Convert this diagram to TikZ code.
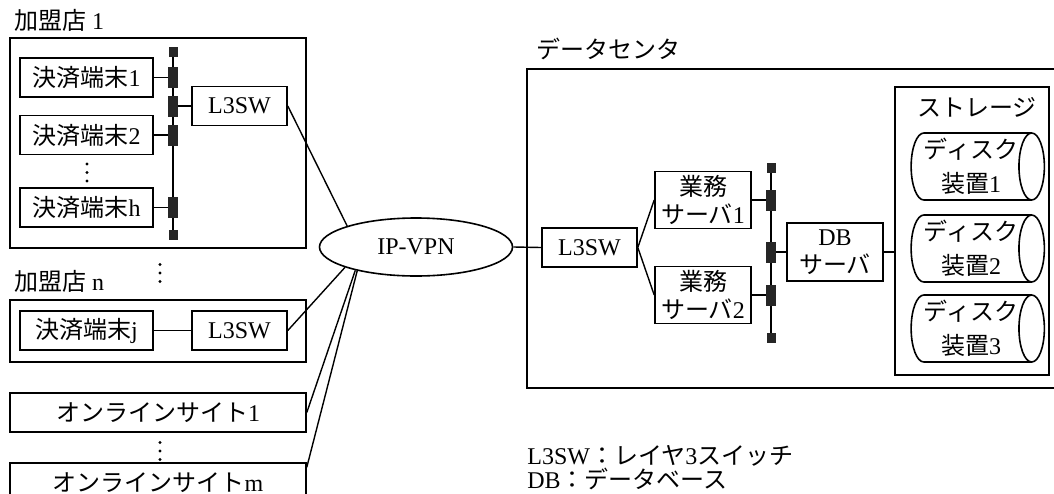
\documentclass[tikz,border=0pt]{standalone}
\usepackage{fontspec}
\setmainfont{Liberation Serif}
\newfontfamily\jp{Noto Sans CJK JP}
\usetikzlibrary{shapes.geometric, positioning}

\begin{document}
\begin{tikzpicture}[
  x=0.5pt, y=-0.5pt, font=\fontsize{12}{14}\selectfont,
  box/.style={rectangle, draw, line width=0.8pt, inner sep=0pt, align=center,
              minimum width=47.5pt, minimum height=19.5pt},
  term/.style={box, minimum width=66.5pt},
  srv/.style={box, minimum width=48pt, minimum height=28.5pt},
  frame/.style={rectangle, draw, line width=0.8pt, inner sep=0pt},
  disk/.style={cylinder, draw, line width=0.8pt, align=center, inner sep=0pt,
               aspect=0.45, minimum height=60pt, minimum width=33.5pt,
               font=\fontsize{12}{17}\selectfont},
  tap/.style={rectangle, fill=black!85, inner sep=0pt,
              minimum width=5pt, minimum height=10.5pt},
  busend/.style={rectangle, fill=black!85, inner sep=0pt,
                 minimum width=4.5pt, minimum height=5pt},
  ln/.style={line width=0.7pt}]
\useasboundingbox (0,0) rectangle (1054,493);
\clip (0,0) rectangle (1054,493);

% --- member store 1
\node[frame, minimum width=148pt, minimum height=105pt] (shop1) at (158,143) {};
\node[anchor=west] (shop1lbl) at (7,20) {{\jp 加盟店} 1};
\node[term] (pos1) at (86.5,77.5) {{\jp 決済端末}1};
\node[term] (pos2) at (86.5,135) {{\jp 決済端末}2};
\node[term] (posh) at (86.5,207.5) {{\jp 決済端末}h};
\node[box] (sw1) at (239.5,106) {L3SW};
\node[busend] (bus1top) at (173,52) {};
\node[busend] (bus1bot) at (173,235) {};
\draw[line width=1pt] (bus1top) -- (bus1bot);
\foreach \n/\y in {p1/77.5, sw/106, p2/135, ph/207.5}
  \node[tap] (tap\n) at (173,\y) {};
\draw[ln] (pos1) -- (tapp1); \draw[ln] (pos2) -- (tapp2);
\draw[ln] (posh) -- (tapph); \draw[ln] (tapsw) -- (sw1);

% --- member store n
\node[anchor=west] (shopnlbl) at (7,281) {{\jp 加盟店} n};
\node[frame, minimum width=148pt, minimum height=31pt] (shopn) at (158,331) {};
\node[term] (posj) at (86.5,330.5) {{\jp 決済端末}j};
\node[box] (swn) at (239.5,330.5) {L3SW};
\draw[ln] (posj) -- (swn);

% --- online sites
\node[box, minimum width=148pt] (onl1) at (158,412.5) {{\jp オンラインサイト}1};
\node[box, minimum width=148pt] (onlm) at (158,482.5) {{\jp オンラインサイト}m};

% vertical ellipses
\foreach \x/\y in {87/172.5, 160/273, 160/451}
  \foreach \d in {-8.5,0,8.5}
    \fill (\x,\y+\d) circle (0.85pt);

% --- IP-VPN
\node[ellipse, draw, line width=0.8pt, inner sep=0pt, minimum width=96.5pt,
      minimum height=29pt] (vpn) at (416,247) {IP-VPN};
\draw[ln] (sw1.east) -- (vpn.163);
\draw[ln] (swn.east) -- (vpn.196);
\draw[ln] (onl1.east) -- (vpn.201);
\draw[ln] ([yshift=-2.5pt]onlm.north east) -- (vpn.202);

% --- data center
\node[anchor=west] (dclbl) at (529,49) {{\jp データセンタ}};
\node[frame, minimum width=276.5pt, minimum height=159.5pt] (dc) at (803.5,228.5) {};
\node[box] (dcsw) at (589.5,247.5) {L3SW};
\node[srv] (ap1) at (703,200) {{\jp 業務}\\{\jp サーバ}1};
\node[srv] (ap2) at (703,295) {{\jp 業務}\\{\jp サーバ}2};
\node[srv, minimum height=29pt] (db) at (835,252) {DB\\{\jp サーバ}};
\node[busend] (bus2top) at (771,168) {};
\node[busend] (bus2bot) at (771,338) {};
\draw[line width=1pt] (bus2top) -- (bus2bot);
\foreach \n/\y in {a1/200, db/252, a2/295}
  \node[tap] (tap\n) at (771,\y) {};
\draw[ln] (vpn.east) -- (dcsw.west);
\draw[ln] (dcsw.east) -- (ap1.west); \draw[ln] (dcsw.east) -- (ap2.west);
\draw[ln] (ap1) -- (tapa1); \draw[ln] (ap2) -- (tapa2); \draw[ln] (tapdb) -- (db);

% --- storage
\node[frame, minimum width=77pt, minimum height=144pt] (stor) at (972,231) {};
\node (storlbl) at (977,107) {{\jp ストレージ}};
\node[disk] (disk1) at (971,166.5) {{\jp ディスク}\\{\jp 装置}1};
\node[disk] (disk2) at (971,248.5) {{\jp ディスク}\\{\jp 装置}2};
\node[disk] (disk3) at (971,328.5) {{\jp ディスク}\\{\jp 装置}3};
\draw[ln] (db.east) -- (db.east -| stor.west);

% --- legend
\node[anchor=north west, align=left, inner sep=0pt,
      font=\fontsize{12}{10.5}\selectfont] (legend) at (527,445)
  {L3SW{\jp ：レイヤ}3{\jp スイッチ}\\DB{\jp ：データベース}};
\end{tikzpicture}
\end{document}
